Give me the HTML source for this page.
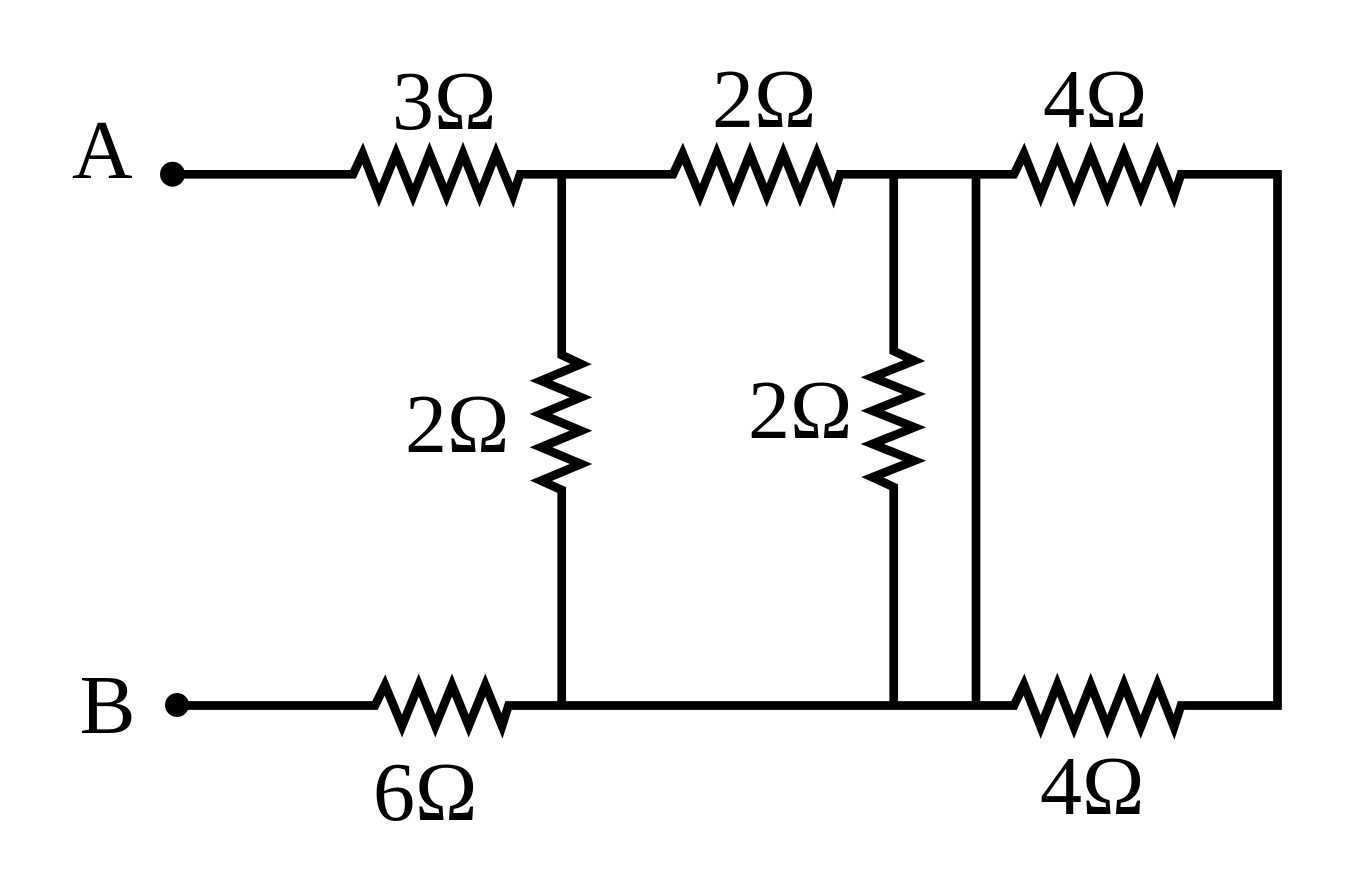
<!DOCTYPE html>
<html>
<head>
<meta charset="utf-8">
<style>
html,body{margin:0;padding:0;background:#fff;}
svg{display:block;}
text{font-family:"Liberation Serif",serif;font-size:84px;fill:#000;}
</style>
</head>
<body>
<svg width="1353" height="878" viewBox="0 0 1353 878" xmlns="http://www.w3.org/2000/svg">
<g fill="none" stroke="#000" stroke-width="8.7" stroke-linejoin="miter" stroke-miterlimit="6" stroke-linecap="butt">
<path d="M172 174.3H353L362.7 153.5L379 195.5L396 153.5L413 195.5L429.5 153.5L446.5 195.5L463 153.5L479.5 195.5L496 153.5L513 195.5L520 174.3H673L682.7 153.5L700 195.5L716.7 153.5L733.3 195.5L750 153.5L766.7 195.5L783.3 153.5L800 195.5L816.7 153.5L833.3 195.5L840 174.3H1014L1024 153.5L1040.7 195.5L1057.3 153.5L1074 195.5L1090.7 153.5L1107.3 195.5L1124 153.5L1140.7 195.5L1157.3 153.5L1174 195.5L1181 174.3H1277.5V705.5H1181L1174 727L1157.3 684.5L1140.7 727L1124 684.5L1107.3 727L1090.7 684.5L1074 727L1057.3 684.5L1040.7 727L1024 684.5L1014 705.5H508.5L502 726L485.3 685L468.7 726L452 685L435.3 726L418.7 685L402 726L385 685L375 705.5H177"/>
<path d="M561.7 174V355L581 364L541 380.7L581 397.3L541 414L581 430.7L541 447.3L581 464L541 480.7L561.7 490V705.5"/>
<path d="M893.7 174V351L914.3 360.7L872.4 377.3L914.3 394L872.4 410.7L914.3 427.3L872.4 444L914.3 460.7L872.4 477.3L893.7 487V705.5"/>
<path d="M976 174V705.5"/>
</g>
<circle cx="172.5" cy="174.2" r="12.5" fill="#000"/>
<circle cx="177" cy="705" r="12" fill="#000"/>
<text x="72" y="178">A</text>
<text x="79.5" y="733">B</text>
<text x="392" y="129">3Ω</text>
<text x="712" y="127">2Ω</text>
<text x="1043" y="127">4Ω</text>
<text x="405" y="452">2Ω</text>
<text x="748" y="438">2Ω</text>
<text x="373" y="820">6Ω</text>
<text x="1040" y="814">4Ω</text>
</svg>
</body>
</html>
